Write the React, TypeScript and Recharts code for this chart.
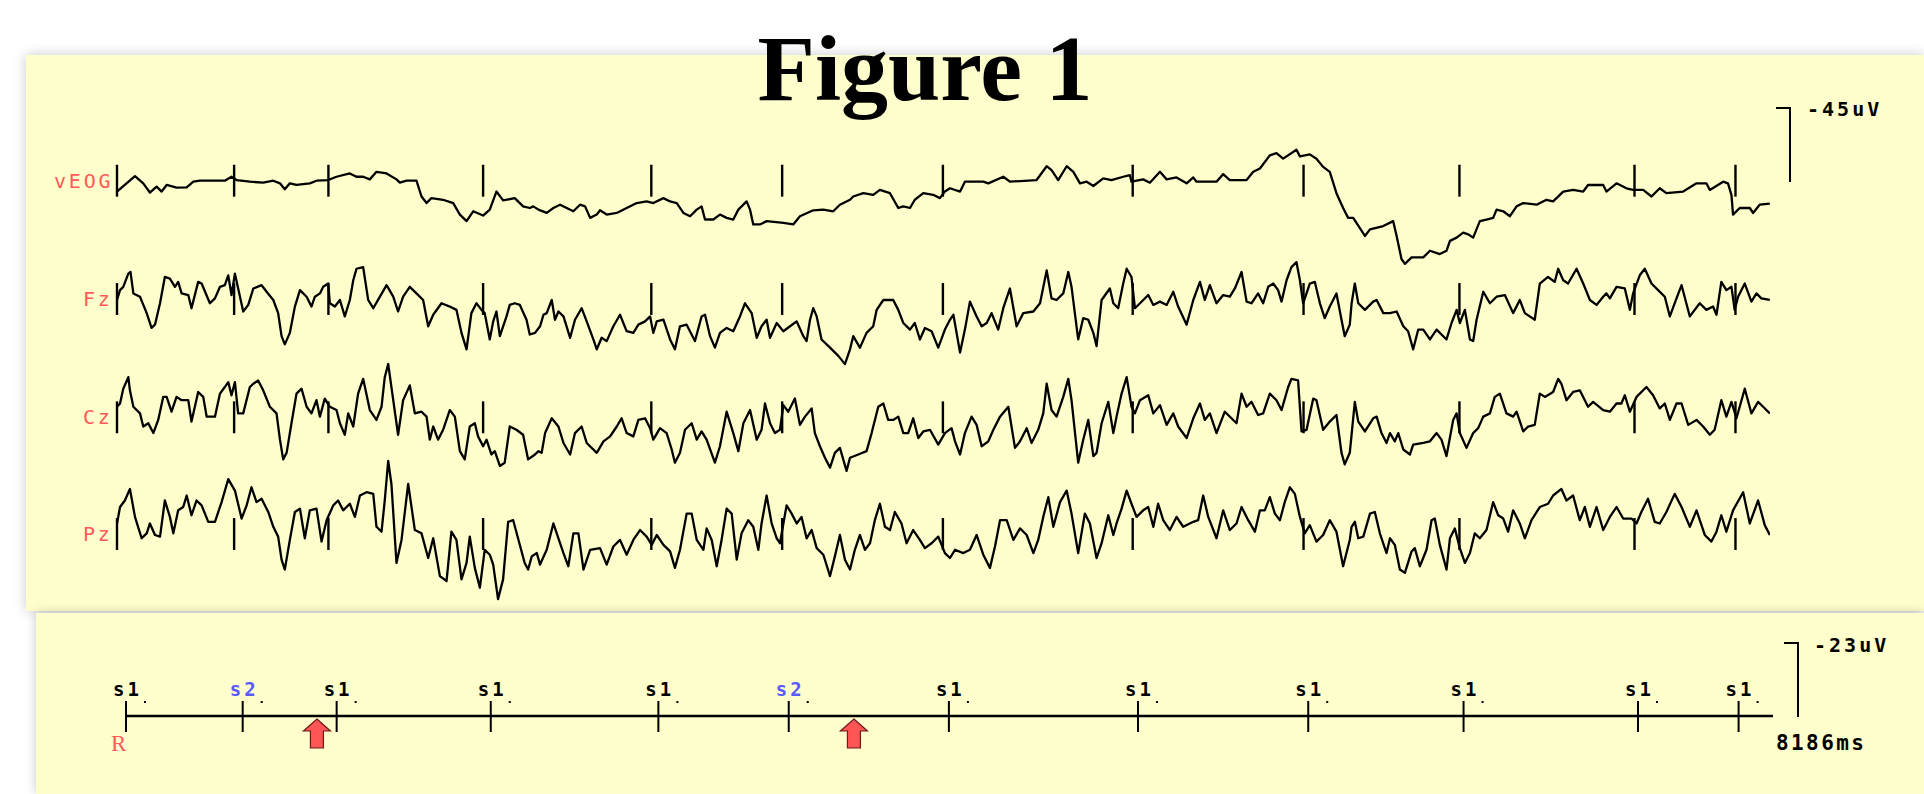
import React from 'react'
import { ComposedChart, Line, XAxis, YAxis, ReferenceLine, Scatter } from 'recharts'

// [time in ms, amplitude in uV]; EEG convention, negative is drawn upward
type Sample = [number, number]

const vEOG: Sample[] = [
  [0, 6.6], [89, -2.8], [130, 1.6], [163, 7.2], [196, 3.6], [221, 6.6], [246, 2.6], [295, 4.2], [345, 4.0], [378, 0.6],
  [411, 0], [534, 0], [567, -2.4], [592, -0.4], [658, 0.6], [724, 1.2], [774, 0], [807, 1.6], [831, 5.2], [856, 1.6],
  [889, 2.6], [955, 1.6], [988, 0], [1046, -0.4], [1087, -2.4], [1153, -4.4], [1186, -2.4], [1219, -2.4], [1252, -0.8], [1285, -5.4],
  [1335, -4.4], [1384, -0.8], [1401, 1.2], [1434, 0], [1483, 0], [1508, 9.6], [1533, 13.6], [1557, 10.6], [1615, 11.6], [1665, 13.6],
  [1698, 20.6], [1731, 24.6], [1764, 18.6], [1813, 21.2], [1846, 17.6], [1879, 6.6], [1912, 12], [1970, 10.6], [2011, 15.6], [2044, 16.6],
  [2062, 15.6], [2087, 17.6], [2128, 19.6], [2161, 16.6], [2194, 14.6], [2227, 16.6], [2260, 18.6], [2293, 14.6], [2318, 15.6], [2343, 22.6],
  [2376, 20.6], [2392, 18], [2425, 20.6], [2475, 19.6], [2524, 16.6], [2574, 13.6], [2623, 12.6], [2656, 13.6], [2706, 10.6], [2739, 12.6],
  [2772, 13.6], [2805, 19.6], [2838, 21.6], [2871, 17.6], [2895, 15.6], [2912, 23.6], [2953, 23.6], [2986, 20.6], [3019, 22.6], [3052, 23.6],
  [3077, 17.6], [3118, 12.6], [3135, 17.6], [3151, 26.6], [3184, 26.6], [3217, 24.6], [3300, 25.6], [3349, 26.6], [3382, 21.6], [3448, 18],
  [3498, 17.6], [3547, 18.6], [3580, 14.6], [3630, 11.6], [3646, 9.6], [3696, 7.6], [3745, 8.6], [3778, 5.6], [3828, 7.6], [3869, 16.6],
  [3894, 15.6], [3927, 16.6], [3951, 11.6], [3993, 7.6], [4042, 8.6], [4075, 10.6], [4100, 6.6], [4125, 4.6], [4175, 6.6], [4199, 0.6],
  [4290, 0.6], [4315, 1.6], [4389, -2.4], [4422, 0.6], [4554, -0.4], [4604, -8.8], [4628, -6.4], [4661, -0.4], [4703, -8.8], [4736, -5.4],
  [4769, 1.6], [4802, 0.6], [4835, 3.2], [4884, -1.4], [4925, -0.4], [4983, -2.4], [5016, -3.4], [5024, 0.6], [5082, -0.8], [5115, 1.2],
  [5165, -5.4], [5198, -0.8], [5247, -2], [5297, 1.6], [5330, -2], [5346, 0.6], [5445, 0.6], [5478, -4], [5511, -0.4], [5594, -0.4],
  [5627, -5.4], [5660, -7.4], [5709, -15.4], [5742, -16.8], [5775, -13.4], [5841, -18.8], [5858, -14.8], [5907, -16], [5940, -13.4], [5973, -8.4],
  [6006, -5.4], [6039, 7.6], [6072, 16.6], [6097, 22.6], [6122, 22.6], [6180, 33.6], [6205, 29.6], [6271, 27.6], [6320, 24.6], [6337, 33.6],
  [6361, 47.6], [6378, 50.6], [6411, 46.6], [6469, 46.6], [6502, 42.6], [6551, 44.6], [6584, 42.6], [6601, 36.6], [6634, 34.6], [6667, 31.6],
  [6691, 32.6], [6716, 34.6], [6749, 24.6], [6782, 23.6], [6815, 22.6], [6832, 17.6], [6865, 18.6], [6898, 21.6], [6931, 15.6], [6964, 13.6],
  [7030, 14.6], [7079, 11.6], [7112, 12.6], [7162, 6.6], [7211, 5.6], [7261, 6.6], [7285, 2.6], [7360, 2.6], [7376, 6.6], [7426, 1.6],
  [7475, 4.6], [7508, 5.6], [7558, 5.6], [7599, 9.6], [7640, 4.6], [7673, 7.6], [7756, 6.6], [7822, 1.6], [7871, 1.6], [7888, 5.6],
  [7954, 0.6], [7978, 1.6], [7995, 8.6], [8003, 20.6], [8036, 16.6], [8086, 16.6], [8102, 19.6], [8135, 14.6], [8185, 14],
]

const Fz: Sample[] = [
  [0, 0.6], [15, -5.4], [31, -7.4], [56, -15.4], [67, -16.4], [81, -3.4], [114, -1.4], [147, 8.6], [171, 17.6], [188, 15.6],
  [213, 2.6], [237, -13.4], [262, -12.4], [287, -7.4], [303, -10.4], [320, -3.4], [353, -2.4], [369, 5.6], [402, -10.4], [419, -9.4],
  [460, 2.6], [485, -0.4], [510, -7.4], [534, -8.4], [551, -14.4], [567, -2.4], [584, -15.4], [609, -1.4], [625, 7.6], [650, 3.6],
  [675, -6.4], [716, -8.4], [741, -4.4], [774, 0.6], [798, 8.6], [815, 22.6], [831, 27.6], [856, 20.6], [881, 4.6], [906, -5.4],
  [939, -1.4], [963, 4.6], [980, -1.4], [1005, -3.4], [1021, -7.4], [1046, -9.4], [1054, 2.6], [1079, 4.6], [1104, 0.6], [1128, 10.6],
  [1153, 0.6], [1170, -11.4], [1186, -18.4], [1219, -19.4], [1244, 0.6], [1269, 5.6], [1302, -1.4], [1335, -8.4], [1368, -1.4], [1392, 7.6],
  [1417, -1.4], [1450, -7.4], [1483, -3.4], [1516, 0.6], [1541, 16.6], [1566, 9.6], [1607, 2.6], [1648, 4.6], [1681, 6.6], [1706, 20.6],
  [1731, 30.6], [1755, 8.6], [1780, 2.6], [1805, 6.6], [1821, 8.6], [1846, 24.6], [1863, 13.6], [1879, 7.6], [1896, 22.6], [1929, 10.6],
  [1945, 3.6], [1970, 2.6], [1995, 3.6], [2028, 12.6], [2044, 21.6], [2070, 20.6], [2095, 16.6], [2112, 9.6], [2128, 8.6], [2153, 0.6],
  [2169, 12.6], [2186, 7.6], [2211, 10.6], [2244, 23.6], [2268, 12.6], [2301, 5.6], [2326, 13.6], [2359, 24.6], [2376, 30.6], [2400, 23.6],
  [2425, 25.6], [2458, 16.6], [2491, 9.6], [2524, 19.6], [2557, 20.6], [2582, 15.6], [2615, 13.6], [2640, 10.6], [2656, 20.6], [2673, 13.6],
  [2706, 12.6], [2739, 24.6], [2763, 30.6], [2788, 16.6], [2821, 15.6], [2862, 25.6], [2895, 10.6], [2912, 9.6], [2937, 22.6], [2961, 29.6],
  [2986, 20.6], [3019, 17.6], [3052, 19.6], [3085, 10.6], [3110, 2.6], [3143, 8.6], [3168, 23.6], [3192, 16.6], [3217, 12.6], [3234, 23.6],
  [3267, 14.6], [3300, 19.6], [3333, 16.6], [3366, 13.6], [3399, 22.6], [3415, 25.6], [3432, 12.6], [3448, 5.6], [3465, 10.6], [3489, 24.6],
  [3531, 29.6], [3572, 34.6], [3605, 39.6], [3630, 30.6], [3646, 22.6], [3679, 29.6], [3712, 20.6], [3745, 16.6], [3762, 6.6], [3795, 0.6],
  [3844, 0.6], [3869, 6.6], [3894, 14.6], [3927, 18.6], [3951, 14.6], [3976, 24.6], [4001, 17.6], [4034, 19.6], [4067, 29.6], [4100, 18.6],
  [4125, 12.6], [4142, 9.6], [4175, 32.6], [4199, 18.6], [4224, 1.6], [4257, 10.6], [4282, 16.6], [4307, 14.6], [4331, 8.6], [4364, 18.6],
  [4389, 5.6], [4422, -6.4], [4455, 16.6], [4488, 8.6], [4538, 7.6], [4571, 2.6], [4604, -17.4], [4628, -0.4], [4653, 0.6], [4686, -3.4],
  [4711, -16.4], [4727, -7.4], [4760, 24.6], [4785, 11.6], [4810, 12.6], [4835, 20.6], [4851, 28.6], [4876, 0.6], [4917, -6.4], [4934, 2.6],
  [4958, 5.6], [4983, -9.4], [5000, -18.4], [5024, -13.4], [5041, 5.6], [5066, 2.6], [5107, -2.4], [5132, 3.6], [5165, 1.6], [5198, 3.6],
  [5231, -4.4], [5255, 4.6], [5297, 15.6], [5330, 0.6], [5363, -10.4], [5387, 0.6], [5412, -8.4], [5445, 2.6], [5478, -2.4], [5511, -1.4],
  [5536, -6.4], [5569, -16.4], [5594, 1.6], [5618, 2.6], [5651, -3.4], [5676, 2.6], [5701, -7.4], [5726, -9.4], [5750, -5.4], [5767, 1.6],
  [5792, -11.4], [5816, -19.4], [5841, -22.4], [5858, -11.4], [5874, 2.6], [5907, -9.4], [5932, -10.4], [5957, 2.6], [5981, 11.6], [6006, 4.6],
  [6039, -3.4], [6064, 12.6], [6080, 22.6], [6105, 15.6], [6114, 2.6], [6130, -9.4], [6147, 2.6], [6180, 6.6], [6221, 1.6], [6238, 0.6],
  [6271, 8.6], [6304, 8.6], [6337, 7.6], [6370, 16.6], [6394, 19.6], [6419, 30.6], [6444, 18.6], [6469, 18.6], [6502, 24.6], [6535, 18.6],
  [6584, 24.6], [6609, 14.6], [6634, 6.6], [6650, 14.6], [6675, 6.6], [6700, 24.6], [6716, 25.6], [6733, 12.6], [6766, -4.4], [6799, 2.6],
  [6832, -1.4], [6873, -2.4], [6914, 8.6], [6947, 0.6], [6972, 8.6], [7021, 12.6], [7046, -9.4], [7087, -13.4], [7120, -10.4], [7137, -18.4],
  [7162, -11.4], [7186, -9.4], [7228, -18.4], [7261, -9.4], [7294, 0.6], [7327, 3.6], [7360, -1.4], [7376, -3.4], [7393, -0.4], [7426, -7.4],
  [7467, -6.4], [7492, 6.6], [7508, -3.4], [7541, -14.4], [7566, -18.4], [7599, -9.4], [7632, -5.4], [7665, -1.4], [7690, 10.6], [7723, -0.4],
  [7748, -8.4], [7789, 10.6], [7838, 2.6], [7871, 6.6], [7904, 4.6], [7921, 9.6], [7945, -10.4], [7970, -5.4], [7995, -7.4], [8011, 6.6],
  [8028, -1.4], [8061, -9.4], [8094, 1.6], [8119, -3.4], [8143, -0.4], [8185, 0.6],
]

const Cz: Sample[] = [
  [0, -6.4], [15, -8.4], [31, -17.4], [56, -24.4], [64, -16.4], [81, -6.4], [114, -2.4], [130, 5.6], [155, 3.6], [180, 9.6],
  [204, 1.6], [229, -12.4], [246, -12.4], [270, -3.4], [295, -12.4], [320, -10.4], [353, -10.4], [369, 2.6], [402, -15.4], [427, -12.4],
  [444, -0.4], [485, -0.4], [510, -14.4], [534, -18.4], [551, -21.4], [567, -13.4], [584, -21.4], [600, -2.4], [625, -2.4], [658, -18.4],
  [675, -20.4], [699, -22.4], [724, -16.4], [757, -6.4], [790, -2.4], [807, 13.6], [823, 25.6], [840, 21.6], [864, 3.6], [889, -14.4],
  [914, -17.4], [939, -6.4], [963, -2.4], [988, -10.4], [1005, -0.4], [1029, -11.4], [1054, -6.4], [1087, -4.4], [1104, 3.6], [1128, 10.6],
  [1145, -2.4], [1170, 5.6], [1194, -14.4], [1219, -23.4], [1252, -4.4], [1285, 1.6], [1310, -6.4], [1326, -24.4], [1343, -32.4], [1368, -10.4],
  [1392, 10.6], [1417, -10.4], [1450, -19.4], [1475, -2.4], [1508, -3.4], [1533, -0.4], [1549, 13.6], [1566, 5.6], [1590, 13.6], [1615, 7.6],
  [1648, -4.4], [1673, -0.4], [1698, 20.6], [1722, 25.6], [1747, 5.6], [1772, 3.6], [1788, 11.6], [1813, 17.6], [1830, 13.6], [1854, 22.6],
  [1871, 20.6], [1896, 29.6], [1920, 27.6], [1945, 5.6], [1978, 7.6], [2011, 10.6], [2036, 25.6], [2070, 22.6], [2087, 20.6], [2103, 21.6],
  [2120, 9.6], [2153, 0.6], [2186, 5.6], [2211, 15.6], [2244, 22.6], [2268, 9.6], [2301, 5.6], [2326, 15.6], [2376, 21.6], [2409, 14.6],
  [2442, 11.6], [2475, 5.6], [2499, 0.6], [2524, 9.6], [2557, 11.6], [2582, 1.6], [2615, 0.6], [2640, 6.6], [2656, 13.6], [2689, 6.6],
  [2722, 9.6], [2747, 19.6], [2763, 27.6], [2788, 21.6], [2813, 7.6], [2846, 3.6], [2871, 13.6], [2895, 8.6], [2920, 13.6], [2961, 27.6],
  [2986, 17.6], [3019, -3.4], [3052, 9.6], [3077, 20.6], [3102, 3.6], [3135, -4.4], [3168, 13.6], [3192, 7.6], [3209, -8.4], [3234, 3.6],
  [3258, 9.6], [3283, 7.6], [3300, -7.4], [3324, -3.4], [3357, -11.4], [3382, 4.6], [3407, -0.4], [3440, -5.4], [3456, 9.6], [3481, 17.6],
  [3506, 24.6], [3531, 30.6], [3555, 21.6], [3580, 18.6], [3613, 32.6], [3630, 24.6], [3671, 22.6], [3712, 20.6], [3737, 9.6], [3770, -6.4],
  [3795, -8.4], [3819, 1.6], [3844, 1.6], [3869, -0.4], [3894, 9.6], [3918, 9.6], [3943, 0.6], [3968, 12.6], [3993, 8.6], [4026, 7.6],
  [4067, 16.6], [4100, 9.6], [4133, 6.6], [4150, 14.6], [4175, 22.6], [4199, 9.6], [4232, -0.4], [4257, 4.6], [4282, 17.6], [4315, 14.6],
  [4340, 7.6], [4373, -0.4], [4414, -6.4], [4447, 18.6], [4472, 14.6], [4505, 6.6], [4529, 15.6], [4562, 7.6], [4587, -2.4], [4604, -20.4],
  [4628, -4.4], [4653, -0.4], [4686, -12.4], [4711, -23.4], [4727, -10.4], [4760, 27.6], [4785, 13.6], [4810, 1.6], [4835, 23.6], [4851, 21.6],
  [4876, 3.6], [4909, -9.4], [4934, 9.6], [4950, -0.4], [4975, -14.4], [5000, -24.4], [5024, -6.4], [5041, -2.4], [5066, -10.4], [5107, -13.4],
  [5132, -2.4], [5165, -7.4], [5198, 4.6], [5231, -2.4], [5255, 5.6], [5297, 12.6], [5330, 0.6], [5363, -8.4], [5387, 1.6], [5412, -2.4],
  [5445, 9.6], [5486, -3.4], [5519, 0.6], [5544, 3.6], [5569, -14.4], [5594, -6.4], [5618, -9.4], [5651, -1.4], [5676, -2.4], [5709, -14.4],
  [5742, -10.4], [5767, -4.4], [5800, -18.4], [5816, -23.4], [5849, -22.4], [5866, 8.6], [5891, 7.6], [5924, -11.4], [5940, -10.4], [5973, 7.6],
  [6006, 2.6], [6039, -1.4], [6064, 21.6], [6080, 28.6], [6105, 21.6], [6130, -9.4], [6147, 2.6], [6180, 8.6], [6221, 0.6], [6238, -0.4],
  [6262, 9.6], [6287, 15.6], [6304, 9.6], [6328, 14.6], [6345, 9.6], [6370, 19.6], [6403, 22.6], [6419, 16.6], [6469, 15.6], [6502, 14.6],
  [6535, 9.6], [6559, 13.6], [6584, 23.6], [6617, 1.6], [6634, -2.4], [6650, 9.6], [6683, 18.6], [6716, 9.6], [6741, 6.6], [6766, -0.4],
  [6799, -2.4], [6823, -12.4], [6848, -14.4], [6881, -2.4], [6914, -0.4], [6931, -3.4], [6964, 8.6], [6988, 5.6], [7021, 4.6], [7046, -14.4],
  [7071, -12.4], [7112, -15.4], [7137, -23.4], [7153, -20.4], [7178, -10.4], [7211, -15.4], [7244, -16.4], [7285, -6.4], [7310, -9.4], [7360, -4.4],
  [7393, -3.4], [7426, -8.4], [7450, -8.4], [7467, -13.4], [7492, -3.4], [7525, -12.4], [7574, -18.4], [7607, -13.4], [7640, -5.4], [7665, -8.4],
  [7690, 1.6], [7723, -8.4], [7748, -8.4], [7781, 4.6], [7822, 1.6], [7855, 5.6], [7888, 10.6], [7912, 7.6], [7945, -10.4], [7970, -0.4],
  [7995, -9.4], [8020, 0.6], [8061, -17.4], [8094, -2.4], [8127, -9.4], [8152, -6.4], [8185, -2.4],
]

const Pz: Sample[] = [
  [0, -6.4], [15, -16.4], [39, -20.4], [64, -27.4], [89, -10.4], [122, 2.6], [147, -0.4], [163, -6.4], [188, 0.6], [213, 1.6],
  [237, -20.4], [262, -10.4], [279, -0.4], [303, -14.4], [328, -16.4], [345, -23.4], [369, -11.4], [394, -20.4], [419, -17.4], [452, -7.4],
  [485, -7.4], [518, -19.4], [551, -33.4], [584, -26.4], [617, -9.4], [642, -17.4], [666, -28.4], [691, -19.4], [716, -21.4], [749, -13.4],
  [774, -4.4], [798, 1.6], [815, 15.6], [831, 21.6], [856, 3.6], [881, -13.4], [906, -15.4], [930, 2.6], [955, -14.4], [988, -15.4],
  [1013, 4.6], [1038, -8.4], [1071, -17.4], [1095, -20.4], [1120, -14.4], [1153, -18.4], [1178, -10.4], [1203, -23.4], [1236, -25.4], [1269, -24.4],
  [1285, -4.4], [1310, -1.4], [1326, -20.4], [1343, -44.4], [1359, -30.4], [1384, 17.6], [1409, 3.6], [1442, -30.4], [1475, -2.4], [1508, -0.4],
  [1541, 14.6], [1566, 2.6], [1599, 25.6], [1632, 28.6], [1656, -1.4], [1681, 3.6], [1706, 27.6], [1731, 17.6], [1747, 1.6], [1772, 20.6],
  [1797, 32.6], [1821, 9.6], [1846, 12.6], [1863, 18.6], [1887, 39.6], [1912, 27.6], [1937, -7.4], [1962, -8.4], [1986, 2.6], [2019, 17.6],
  [2036, 21.6], [2054, 13.6], [2079, 11.6], [2095, 18.6], [2128, 9.6], [2161, -6.4], [2186, 2.6], [2211, 11.6], [2235, 19.6], [2260, -0.4],
  [2285, -0.4], [2310, 21.6], [2343, 9.6], [2392, 8.6], [2425, 18.6], [2458, 7.6], [2491, 3.6], [2524, 12.6], [2557, 3.6], [2590, -2.4],
  [2623, 1.6], [2648, 6.6], [2673, 0.6], [2706, 6.6], [2739, 10.6], [2763, 20.6], [2788, 9.6], [2821, -12.4], [2846, -12.4], [2871, 3.6],
  [2904, 9.6], [2920, -3.4], [2945, 3.6], [2970, 19.6], [2994, 3.6], [3019, -15.4], [3044, -12.4], [3069, 15.6], [3093, -0.4], [3126, -8.4],
  [3151, -4.4], [3176, 9.6], [3192, -6.4], [3217, -23.4], [3242, -6.4], [3267, 2.6], [3283, 5.6], [3316, -17.4], [3341, -12.4], [3366, -6.4],
  [3390, -10.4], [3415, 2.6], [3440, -2.4], [3465, 8.6], [3498, 12.6], [3531, 25.6], [3555, 13.6], [3580, 0.6], [3605, 15.6], [3630, 21.6],
  [3654, 9.6], [3679, 0.6], [3704, 9.6], [3729, 5.6], [3753, -8.4], [3778, -18.4], [3803, -4.4], [3828, -2.4], [3852, -13.4], [3885, -6.4],
  [3910, 5.6], [3943, -2.4], [3976, 3.6], [4001, 8.6], [4034, 5.6], [4067, 1.6], [4100, 11.6], [4125, 14.6], [4150, 9.6], [4191, 11.6],
  [4224, 9.6], [4257, 0.6], [4290, 12.6], [4323, 20.6], [4348, 7.6], [4373, -8.4], [4406, -8.4], [4439, 3.6], [4472, -3.4], [4505, 0.6],
  [4538, 11.6], [4562, 3.6], [4587, -10.4], [4612, -22.4], [4637, -4.4], [4670, -19.4], [4703, -26.4], [4727, -12.4], [4760, 11.6], [4793, -12.4],
  [4818, -6.4], [4851, 14.6], [4876, 5.6], [4909, -11.4], [4934, 0.6], [4950, -6.4], [4975, -15.4], [5000, -26.4], [5024, -18.4], [5049, -10.4],
  [5082, -14.4], [5107, -16.4], [5132, -4.4], [5156, -18.4], [5181, -8.4], [5214, -2.4], [5247, -10.4], [5280, -4.4], [5330, -7.4], [5354, -8.4],
  [5379, -23.4], [5404, -10.4], [5445, 2.6], [5478, -14.4], [5511, -2.4], [5544, -6.4], [5569, -16.4], [5602, -8.4], [5635, -1.4], [5660, -14.4],
  [5684, -14.4], [5709, -22.4], [5734, -12.4], [5759, -8.4], [5783, -19.4], [5808, -28.4], [5833, -24.4], [5858, -10.4], [5882, -0.4], [5907, -5.4],
  [5940, 4.6], [5973, 0.6], [6006, -8.4], [6039, -1.4], [6072, 19.6], [6105, 3.6], [6114, -4.4], [6130, -7.4], [6147, 2.6], [6172, 1.6],
  [6205, -12.4], [6229, -13.4], [6254, -0.4], [6287, 11.6], [6304, 2.6], [6328, 6.6], [6353, 21.6], [6378, 23.6], [6411, 10.6], [6427, 8.6],
  [6452, 19.6], [6485, 9.6], [6510, -8.4], [6526, -9.4], [6551, 6.6], [6584, 21.6], [6601, 2.6], [6625, -3.4], [6650, 8.6], [6675, 17.6],
  [6700, 11.6], [6724, -0.4], [6749, 2.6], [6782, -2.4], [6815, -19.4], [6840, -11.4], [6865, -9.4], [6889, -1.4], [6914, -14.4], [6947, -6.4],
  [6972, 2.6], [7005, -8.4], [7046, -16.4], [7087, -18.4], [7112, -23.4], [7153, -27.4], [7178, -20.4], [7211, -23.4], [7244, -8.4], [7269, -16.4],
  [7294, -4.4], [7327, -16.4], [7360, -2.4], [7393, -10.4], [7426, -16.4], [7459, -9.4], [7500, -9.4], [7525, -6.4], [7549, -13.4], [7582, -21.4],
  [7615, -7.4], [7640, -6.4], [7673, -13.4], [7714, -24.4], [7748, -16.4], [7789, -4.4], [7822, -14.4], [7863, 0.6], [7896, 4.6], [7921, -1.4],
  [7945, -11.4], [7970, -1.4], [8003, -14.4], [8053, -25.4], [8086, -6.4], [8127, -20.4], [8160, -5.4], [8185, 0.6],
]

const CHANNEL_NAMES = ['vEOG', 'Fz', 'Cz', 'Pz']
const EVENT_TIMES = [0, 580, 1047, 1813, 2646, 3294, 4090, 5030, 5876, 6648, 7515, 8015]
const EVENT_CODES = ['s1', 's2', 's1', 's1', 's1', 's2', 's1', 's1', 's1', 's1', 's1', 's1']
const RESPONSE_TIMES = [949, 3618]
const EPOCH_MS = 8186
const EEG_SCALE_UV = 45
const EVENT_SCALE_UV = 23

const SERIES = [vEOG, Fz, Cz, Pz]

// layout
const W = 1924
const TOP_H = 611
const BAR_PX = 74
const PX_PER_UV = BAR_PX / EEG_SCALE_UV
const CH_CENTER = [180.7, 299, 417.3, 534]
const CH_LABEL_LEFT = [54, 83, 83, 83]
const TICK_HALF_UV = 9.7
const MONO = '"DejaVu Sans Mono", monospace'
const RED = '#ff5a5a'
const BLUE = '#5a5aff'
const PANEL = '#fefdcc'

function EventMark(props: any) {
  const { cx, cy, payload } = props
  return (
    <g>
      <line x1={cx} x2={cx} y1={cy - 15} y2={cy + 16} stroke="#000" strokeWidth={2} />
      <text
        x={cx - 13}
        y={cy - 20}
        fontFamily={MONO}
        fontWeight="bold"
        fontSize={19}
        letterSpacing={3}
        fill={payload.code === 's2' ? BLUE : '#000'}
      >
        {payload.code}
      </text>
      <rect x={cx + 18} y={cy - 15} width={2} height={2} fill="#000" />
    </g>
  )
}

function ResponseArrow(props: any) {
  const { cx, cy } = props
  const pts = [
    [cx, cy + 3],
    [cx + 13.5, cy + 15],
    [cx + 6.5, cy + 15],
    [cx + 6.5, cy + 32],
    [cx - 6.5, cy + 32],
    [cx - 6.5, cy + 15],
    [cx - 13.5, cy + 15],
  ]
  return <polygon points={pts.map((p) => p.join(',')).join(' ')} fill="#ff5555" stroke="#6b1a1a" strokeWidth={1.2} />
}

function TraceChart() {
  return (
    <ComposedChart width={W} height={TOP_H} margin={{ top: 0, right: W - 1770, bottom: 0, left: 117 }}>
      <XAxis type="number" dataKey="t" domain={[0, EPOCH_MS]} hide allowDataOverflow />
      {CHANNEL_NAMES.map((name, i) => (
        <YAxis
          key={name}
          yAxisId={name}
          type="number"
          hide
          reversed
          allowDataOverflow
          domain={[-CH_CENTER[i] / PX_PER_UV, (TOP_H - CH_CENTER[i]) / PX_PER_UV]}
        />
      ))}
      {CHANNEL_NAMES.map((name) =>
        EVENT_TIMES.map((t) => (
          <ReferenceLine
            key={name + t}
            yAxisId={name}
            segment={[{ x: t, y: -TICK_HALF_UV }, { x: t, y: TICK_HALF_UV }]}
            stroke="#000"
            strokeWidth={2.4}
          />
        ))
      )}
      {CHANNEL_NAMES.map((name, i) => (
        <Line
          key={name}
          yAxisId={name}
          data={SERIES[i].map(([t, v]) => ({ t, v }))}
          dataKey="v"
          type="linear"
          stroke="#000"
          strokeWidth={2.3}
          strokeLinejoin="round"
          dot={false}
          isAnimationActive={false}
        />
      ))}
    </ComposedChart>
  )
}

function EventChart() {
  const events = EVENT_TIMES.map((t, i) => ({ t, y: 0, code: EVENT_CODES[i] }))
  const responses = RESPONSE_TIMES.map((t) => ({ t, y: 0 }))
  return (
    <ComposedChart width={W} height={181} margin={{ top: 73, right: W - 1773, bottom: 48, left: 126 }}>
      <XAxis type="number" dataKey="t" domain={[0, EPOCH_MS]} hide />
      <YAxis type="number" dataKey="y" domain={[-1, 1]} hide />
      <ReferenceLine segment={[{ x: 0, y: 0 }, { x: EPOCH_MS, y: 0 }]} stroke="#000" strokeWidth={2.4} />
      <Scatter data={events} dataKey="y" shape={EventMark} isAnimationActive={false} />
      <Scatter data={responses} dataKey="y" shape={ResponseArrow} isAnimationActive={false} />
    </ComposedChart>
  )
}

const abs = (s: React.CSSProperties): React.CSSProperties => ({ position: 'absolute', ...s })

const monoText = (size: number, spacing: number, color: string): React.CSSProperties => ({
  fontFamily: MONO,
  fontSize: size,
  fontWeight: 'bold',
  lineHeight: `${size}px`,
  letterSpacing: spacing,
  color,
  whiteSpace: 'nowrap',
})

export default function App() {
  return (
    <div style={abs({ left: 0, top: 0, width: W, height: 794, background: '#fff', overflow: 'hidden' })}>
      <div style={abs({ left: 26, top: 55, width: 1898, height: 556, background: PANEL, boxShadow: '0 0 12px rgba(0,0,0,0.22)' })} />
      <div style={abs({ left: 36, top: 613, width: 1888, height: 181, background: PANEL, boxShadow: '0 0 10px rgba(0,0,0,0.22)' })} />

      <div
        style={abs({
          left: 925,
          top: 21,
          transform: 'translateX(-50%)',
          fontFamily: '"Liberation Serif", "Times New Roman", serif',
          fontWeight: 'bold',
          fontSize: 94,
          lineHeight: '94px',
          whiteSpace: 'nowrap',
          color: '#000',
        })}
      >
        Figure 1
      </div>

      {CHANNEL_NAMES.map((name, i) => (
        <div key={name} style={abs({ left: CH_LABEL_LEFT[i], top: CH_CENTER[i] - 10, ...monoText(20, 2.8, RED), fontWeight: 'normal' })}>
          {name}
        </div>
      ))}

      <div style={abs({ left: 0, top: 0 })}>
        <TraceChart />
      </div>

      {/* calibration bar, EEG */}
      <div style={abs({ left: 1776, top: 107, width: 15, height: 2, background: '#000' })} />
      <div style={abs({ left: 1789, top: 107, width: 2, height: BAR_PX + 1, background: '#000' })} />
      <div style={abs({ left: 1807, top: 99, ...monoText(20, 3, '#000') })}>-{EEG_SCALE_UV}uV</div>

      <div style={abs({ left: 0, top: 613 })}>
        <EventChart />
      </div>

      <div style={abs({ left: 111, top: 732, fontFamily: '"Liberation Serif", serif', fontSize: 23, lineHeight: '23px', color: RED })}>R</div>

      {/* calibration bar, event channel */}
      <div style={abs({ left: 1784, top: 642, width: 15, height: 2, background: '#000' })} />
      <div style={abs({ left: 1797, top: 642, width: 2, height: BAR_PX + 1, background: '#000' })} />
      <div style={abs({ left: 1814, top: 635, ...monoText(20, 3, '#000') })}>-{EVENT_SCALE_UV}uV</div>
      <div style={abs({ left: 1776, top: 733, ...monoText(21, 2.4, '#000') })}>{EPOCH_MS}ms</div>
    </div>
  )
}
